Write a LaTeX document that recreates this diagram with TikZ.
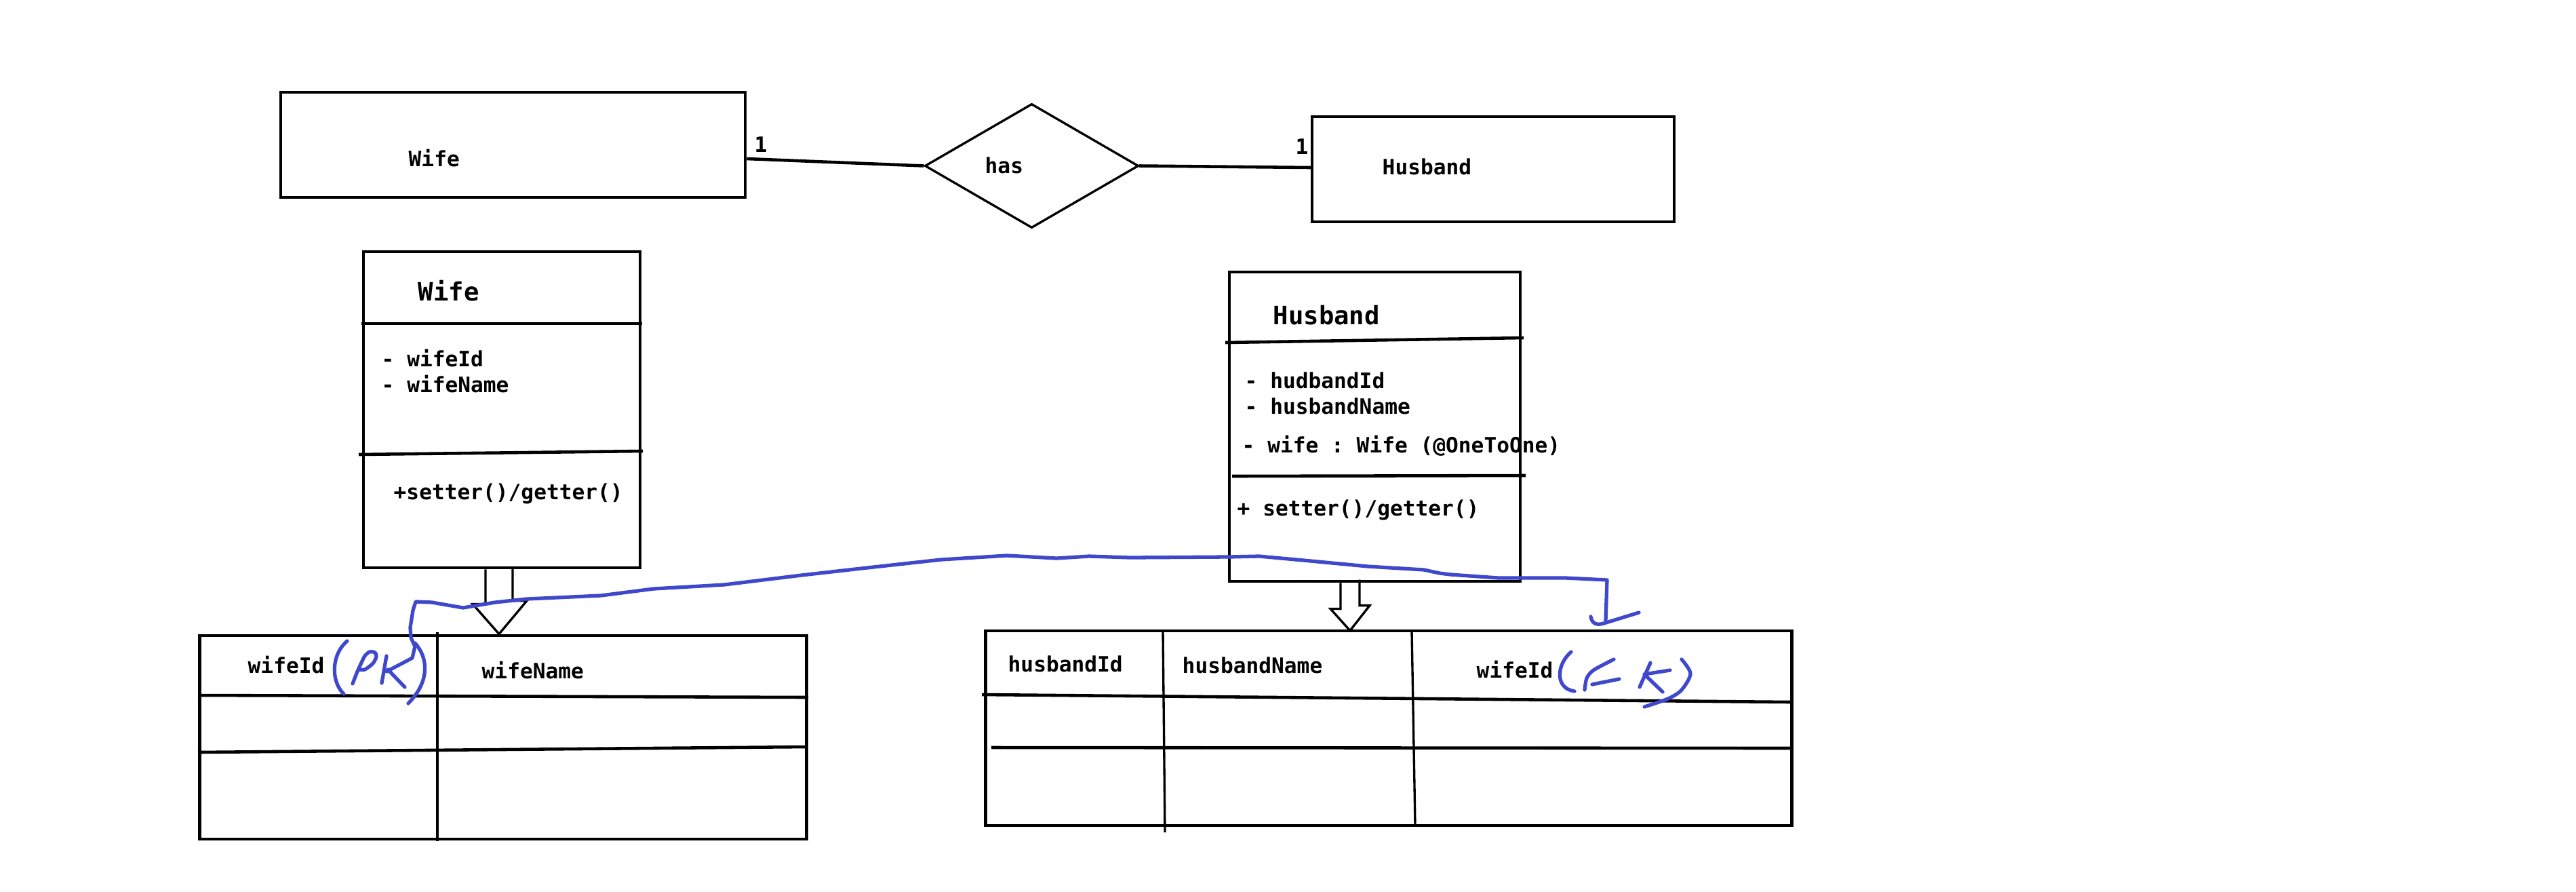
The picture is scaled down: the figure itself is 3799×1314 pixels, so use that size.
\documentclass[tikz,border=0pt]{standalone}
\usepackage{fontspec}
\setmonofont{DejaVu Sans Mono}
\usetikzlibrary{shapes.geometric,calc}
\definecolor{pen}{RGB}{63,72,204}
\begin{document}
\begin{tikzpicture}[x=0.01cm,y=-0.01cm,
  lbl/.style={anchor=base west,inner sep=0pt,font=\ttfamily\bfseries\fontsize{8.87pt}{10pt}\selectfont},
  ttl/.style={anchor=base west,inner sep=0pt,font=\ttfamily\bfseries\fontsize{10.6pt}{12pt}\selectfont},
  box/.style={draw,line width=1.3pt,inner sep=0pt,rectangle},
  ln/.style={line width=1.3pt},
  thinln/.style={line width=0.95pt},
  hand/.style={draw=pen,line width=1.5pt,line cap=round,line join=round},
]
\useasboundingbox (0,0) rectangle (3799,1314);
\fill[white] (0,0) rectangle (3799,1314);

% ---------- ER diagram ----------
\node[box,minimum width=6.85cm,minimum height=1.55cm] (wifeE) at (756.5,213.5) {};
\node[box,minimum width=5.34cm,minimum height=1.55cm] (husE) at (2202,249.5) {};
\node[draw,diamond,line width=0.95pt,inner sep=0pt,minimum width=3.15cm,minimum height=1.83cm] (has) at (1521.5,244.5) {};
\draw[ln] ([yshift=-0.205cm]wifeE.east) -- (has.west);
\draw[ln,line cap=round] (has.east) -- ([yshift=0.025cm]husE.west);
\node[lbl] (tWifeE) at (602,245) {Wife};
\node[lbl] (tOne1) at (1112,224) {1};
\node[lbl] (tHas) at (1452,255) {has};
\node[lbl] (tOne2) at (1910,227) {1};
\node[lbl] (tHusE) at (2038,257) {Husband};

% ---------- class Wife ----------
\node[box,minimum width=4.08cm,minimum height=4.66cm] (wifeC) at (740,604) {};
\draw[ln] (533,477) -- (947,477);
\draw[ln] (529,670) -- (948,665);
\node[ttl] (tWifeC) at (616,443) {Wife};
\node[lbl] (aW1) at (562,540) {- wifeId};
\node[lbl] (aW2) at (562,578) {- wifeName};
\node[lbl] (mW) at (580,736) {+setter()/getter()};

% ---------- class Husband ----------
\node[box,minimum width=4.29cm,minimum height=4.56cm] (husC) at (2027.5,629) {};
\draw[ln] (1807,505) -- (2247,498);
\draw[ln] (1817,702) -- (2250,701);
\node[ttl] (tHusC) at (1877,478) {Husband};
\node[lbl] (aH1) at (1835,572) {- hudbandId};
\node[lbl] (aH2) at (1835,610) {- husbandName};
\node[lbl] (aH3) at (1831,667) {- wife : Wife (@OneToOne)};
\node[lbl] (mH) at (1824,760) {+ setter()/getter()};

% ---------- table Wife ----------
\node[box,minimum width=8.94cm,minimum height=3.00cm] (wifeT) at (742,1087) {};
\draw[thinln] (645,932) -- (645,1240);
\draw[ln] (292,1025) -- (1192,1028);
\draw[ln] (292,1109) -- (1189,1101);
\node[lbl] (cW1) at (365,992) {wifeId};
\node[lbl] (cW2) at (710,1000) {wifeName};

% ---------- table Husband ----------
\node[box,minimum width=11.88cm,minimum height=2.87cm] (husT) at (2048,1073.5) {};
\draw[thinln] (1715,930) -- (1718,1227);
\draw[thinln] (2082,930) -- (2087,1217);
\draw[ln] (1448,1024) -- (2640,1035);
\draw[ln] (1462,1102) -- (2640,1103);
\node[lbl] (cH1) at (1486,990) {husbandId};
\node[lbl] (cH2) at (1743,992) {husbandName};
\node[lbl] (cH3) at (2177,999) {wifeId};

% ---------- block arrows ----------
\draw[thinln] ([xshift=-0.24cm]wifeC.south) -- ++(0,51) -- ++(-19,0)
  -- ([xshift=-0.06cm]wifeT.north) -- ++(41,-49) -- ++(-21,0) -- ++(0,-50);
\draw[thinln] ([xshift=-0.505cm]husC.south) -- ++(0,38) -- ++(-15,0)
  -- ([xshift=-0.57cm,yshift=-0.02cm]husT.north) -- ++(29,-37) -- ++(-15,0) -- ++(0,-38);

% ---------- hand-drawn PK / FK ----------
\coordinate (pk) at (570,990);
\coordinate (fk) at (2368,915);
\draw[hand] (pk) -- (608,970) -- (612,953) -- (606,940) -- (605,925) -- (609,900) -- (613,887)
  -- (637,888) -- (683,896) -- (730,888) -- (777,883) -- (886,878) -- (964,868) -- (1068,862)
  -- (1182,848) -- (1279,837) -- (1388,825) -- (1485,819) -- (1558,823) -- (1606,820)
  -- (1667,822) -- (1812,821) -- (1857,820) -- (1933,827) -- (2017,835) -- (2100,840)
  -- (2123,845) -- (2139,847) -- (2210,852) -- (2309,852) -- (2370,855) -- (fk);
\draw[hand] (2346,909) .. controls (2348,922) and (2358,921) .. (2365,919) -- (2417,903);
% PK
\draw[hand] (512,945) .. controls (488,965) and (488,1005) .. (507,1023);
\draw[hand] plot[smooth] coordinates {(520,1008) (527,990) (533,977) (538,967) (545,961) (553,962) (555,968) (550,978) (538,987) (530,987)};
\draw[hand] (570,967) -- (563,1007);
\draw[hand] (572,987) -- (597,1013);
\draw[hand] (612,948) .. controls (632,970) and (634,1005) .. (602,1037);
% FK
\draw[hand] (2317,961) .. controls (2295,980) and (2293,1015) .. (2322,1019);
\draw[hand] plot[smooth] coordinates {(2380,972) (2350,988) (2340,1000) (2337,1017)};
\draw[hand] (2348,1009) -- (2388,1001);
\draw[hand] (2434,977) -- (2418,1013);
\draw[hand] (2425,994) -- (2463,988);
\draw[hand] (2427,996) -- (2452,1020);
\draw[hand] plot[smooth] coordinates {(2480,972) (2493,993) (2480,1017) (2460,1030) (2425,1042)};
\end{tikzpicture}
\end{document}
